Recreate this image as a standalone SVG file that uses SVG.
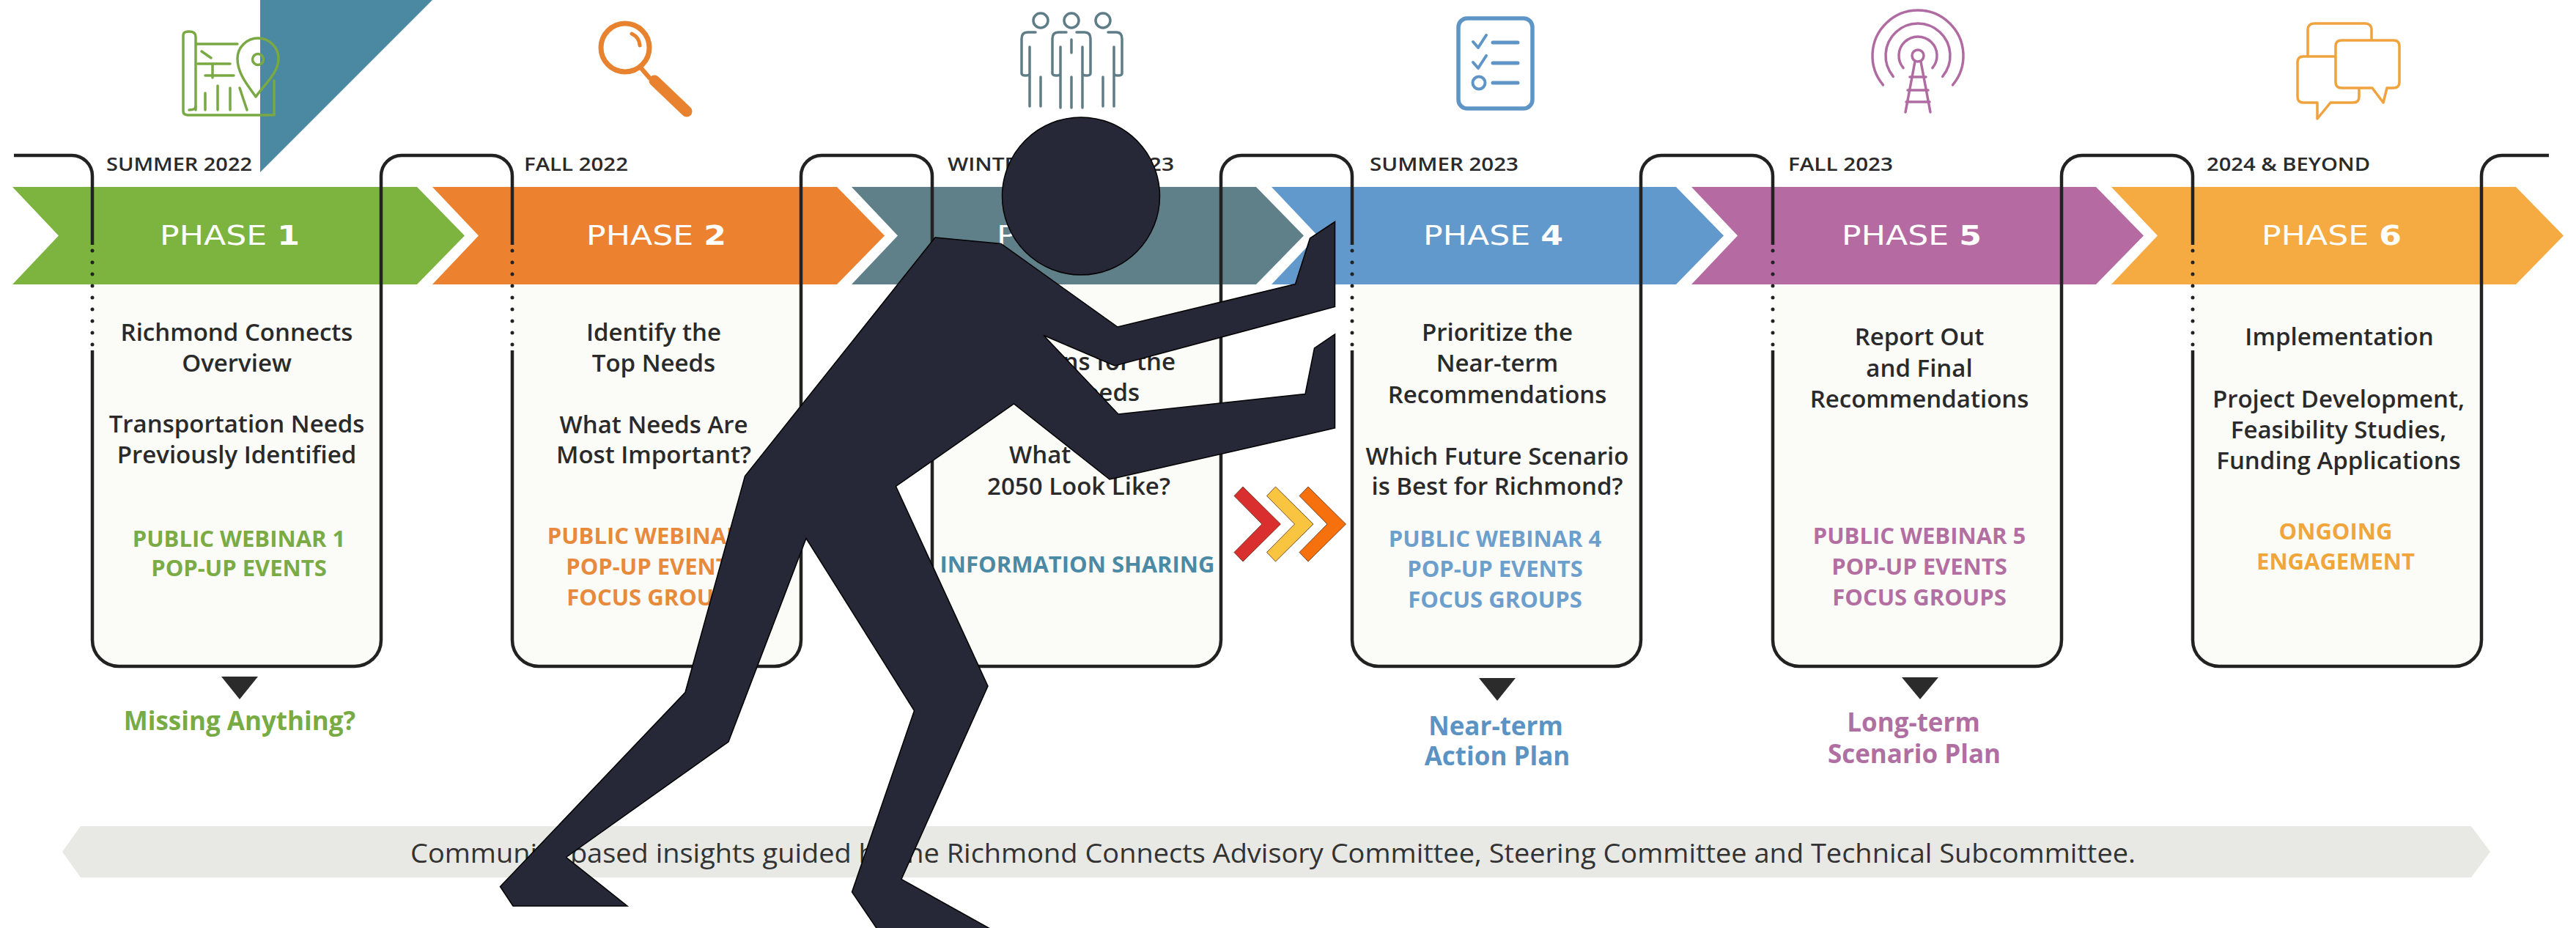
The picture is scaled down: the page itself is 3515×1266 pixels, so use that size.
<svg xmlns="http://www.w3.org/2000/svg" width="3515" height="1266" viewBox="0 0 3515 1266">
  <defs>
    <style>
      .arrow { stroke: none; }
      .title { font-family: "DejaVu Sans", "Liberation Sans", sans-serif; font-size: 38px; fill: #ffffff; }
      .date { font-family: "Open Sans", "Liberation Sans", sans-serif; font-size: 25px; font-weight: 600; fill: #2a2a2a; }
      .body { font-family: "Open Sans", "Liberation Sans", sans-serif; font-size: 33px; font-weight: 600; fill: #2a2a2a; text-anchor: middle; }
      .body.end { text-anchor: end; }
      .body.start { text-anchor: start; }
      .cap { font-family: "Open Sans", "Liberation Sans", sans-serif; font-size: 31px; font-weight: 700; text-anchor: middle; }
      .lab { font-family: "Open Sans", "Liberation Sans", sans-serif; font-size: 35px; font-weight: 700; text-anchor: middle; }
      .boxfill { fill: #fbfbf8; stroke: none; }
      .line { fill: none; stroke: #222222; stroke-width: 4.5; }
      .dots { fill: none; stroke: #222222; stroke-width: 5; stroke-dasharray: 0 16; stroke-linecap: round; }
      .pointer { fill: #2b2b2b; }
      .icon { fill: none; stroke-width: 3.5; stroke-linecap: round; stroke-linejoin: round; }
      .chev { stroke: #5a2a10; stroke-width: 0.8; }
      .fig { fill: #262837; stroke: #000000; stroke-width: 1.5; stroke-linejoin: miter; }
    </style>
  </defs>

  <rect x="0" y="0" width="3515" height="1266" fill="#ffffff"/>

  <!-- corner accent -->
  <polygon points="355,0 590,0 355,235" fill="#4a89a1"/>

  <!-- phase icons -->
  <g id="icon-map" class="icon" stroke="#7aa944">
    <path d="M267,60 H324 M250,48 Q250,43 258,43 Q267,43 267,50 V150 M250,48 V152 Q250,157 258,157 H374 V110"/>
    <path d="M258,150 Q267,150 267,145"/>
    <path d="M275,70 L288,79 M270,87 H314 M290,87 V106 M280,103 H319 M297,117 V150 M314,120 V150 M280,127 V150 M327,120 L337,150"/>
    <path d="M349,132 C336,114 324,99 324,80 A28,28 0 0 1 380,80 C380,99 362,114 349,132 Z" fill="none"/>
    <circle cx="352" cy="81" r="7.5"/>
  </g>

  <g id="icon-search" class="icon" stroke="#e8822e">
    <circle cx="853" cy="65" r="33" stroke-width="7"/>
    <path d="M862,46 A19,19 0 0 1 873,62" stroke-width="5"/>
    <path d="M874,92 L886,106" stroke-width="6"/>
    <path d="M893,110 L937,152" stroke-width="15"/>
  </g>

  <g id="icon-people" class="icon" stroke="#5f7d88">
    <!-- left figure -->
    <circle cx="1420" cy="28" r="10"/>
    <path d="M1413,44 H1402 Q1394,44 1394,53 V100 Q1394,103 1399.5,103 Q1405,103 1405,100 V64 M1405,64 V145 M1420,105 V145"/>
    <!-- right figure -->
    <circle cx="1505" cy="28" r="10"/>
    <path d="M1512,44 H1523 Q1531,44 1531,53 V100 Q1531,103 1525.5,103 Q1520,103 1520,100 V64 M1520,64 V145 M1505,105 V145"/>
    <!-- middle figure -->
    <path d="M1436,53 Q1436,44 1444,44 H1480 Q1488,44 1488,53 V100 Q1488,106 1480,106 H1444 Q1436,106 1436,100 Z" fill="#ffffff" stroke="none"/>
    <circle cx="1462" cy="28" r="10" fill="#ffffff"/>
    <path d="M1455,44 H1444 Q1436,44 1436,53 V100 Q1436,103 1441.5,103 Q1447,103 1447,100 V64 M1447,64 V147 M1469,44 H1480 Q1488,44 1488,53 V100 Q1488,103 1482.5,103 Q1477,103 1477,100 V64 M1477,64 V147 M1462,54 V72 M1462,105 V147"/>
  </g>

  <g id="icon-checklist" class="icon" stroke="#5e95c6">
    <rect x="1990" y="25" width="101" height="123" rx="12" stroke-width="5.5"/>
    <path d="M2010,57 L2017,65 L2028,48 M2010,85 L2017,93 L2028,76" stroke-width="4"/>
    <circle cx="2018" cy="113" r="8.5" stroke-width="4"/>
    <path d="M2037,58 H2071 M2037,86 H2071 M2037,113 H2071" stroke-width="5"/>
  </g>

  <g id="icon-tower" class="icon" stroke="#b06ca2">
    <path d="M2569.5,115.9 A62,62 0 1 1 2664.5,115.9"/>
    <path d="M2583.3,104.3 A44,44 0 1 1 2650.7,104.3"/>
    <path d="M2597.1,92.7 A26,26 0 1 1 2636.9,92.7"/>
    <circle cx="2617" cy="76" r="8"/>
    <path d="M2613,84 L2600,153 M2621,84 L2634,153 M2606,105 H2628 M2603,123 H2631 M2601,139 H2633"/>
  </g>

  <g id="icon-chat" class="icon" stroke="#f0a33c" stroke-width="4">
    <rect x="3149" y="32" width="87" height="70" rx="8"/>
    <path d="M3143,77 H3211 Q3219,77 3219,85 V132 Q3219,140 3211,140 H3180 L3162,162 V140 H3143 Q3135,140 3135,132 V85 Q3135,77 3143,77 Z" fill="#ffffff"/>
    <path d="M3195,55 H3266 Q3274,55 3274,63 V112 Q3274,120 3266,120 H3257 L3252,140 L3237,120 H3195 Q3187,120 3187,112 V63 Q3187,55 3195,55 Z" fill="#ffffff"/>
  </g>

  <!-- phase 1 -->
  <g id="phase-1">
    <path class="boxfill" d="M126,388 V873 A36,36 0 0 0 162,909 H484 A36,36 0 0 0 520,873 V388 Z"/>
    <polygon class="arrow" fill="#7db43f" points="17,255 569,255 634,321.5 569,388 17,388 80,321.5"/>
    <text class="title" x="218" y="334" textLength="191" lengthAdjust="spacingAndGlyphs">PHASE <tspan font-weight="700">1</tspan></text>
    <text class="date" x="145" y="233" textLength="199" lengthAdjust="spacingAndGlyphs">SUMMER 2022</text>
    <text class="body" x="323" y="465">Richmond Connects</text>
    <text class="body" x="323" y="507">Overview</text>
    <text class="body" x="323" y="590">Transportation Needs</text>
    <text class="body" x="323" y="632">Previously Identified</text>
    <text class="cap" fill="#7aab44" x="326" y="746">PUBLIC WEBINAR 1</text>
    <text class="cap" fill="#7aab44" x="326" y="786">POP-UP EVENTS</text>
    <polygon class="pointer" points="302,923 352,923 327,954"/>
    <text class="lab" fill="#79ab44" x="327" y="996">Missing Anything?</text>
  </g>

  <!-- phase 2 -->
  <g id="phase-2">
    <path class="boxfill" d="M699,388 V873 A36,36 0 0 0 735,909 H1057 A36,36 0 0 0 1093,873 V388 Z"/>
    <polygon class="arrow" fill="#ec822f" points="590,255 1142,255 1207,321.5 1142,388 590,388 653,321.5"/>
    <text class="title" x="800" y="334" textLength="191" lengthAdjust="spacingAndGlyphs">PHASE <tspan font-weight="700">2</tspan></text>
    <text class="date" x="715" y="233" textLength="142" lengthAdjust="spacingAndGlyphs">FALL 2022</text>
    <text class="body" x="892" y="465">Identify the</text>
    <text class="body" x="892" y="507">Top Needs</text>
    <text class="body" x="892" y="591">What Needs Are</text>
    <text class="body" x="892" y="632">Most Important?</text>
    <text class="cap" fill="#e88a3c" x="892" y="742">PUBLIC WEBINAR 2</text>
    <text class="cap" fill="#e88a3c" x="892" y="784">POP-UP EVENTS</text>
    <text class="cap" fill="#e88a3c" x="892" y="826">FOCUS GROUPS</text>
  </g>

  <!-- phase 3 -->
  <g id="phase-3">
    <path class="boxfill" d="M1272,388 V873 A36,36 0 0 0 1308,909 H1630 A36,36 0 0 0 1666,873 V388 Z"/>
    <polygon class="arrow" fill="#5f7f89" points="1162,255 1714,255 1779,321.5 1714,388 1162,388 1225,321.5"/>
    <text class="title" x="1360" y="334" textLength="191" lengthAdjust="spacingAndGlyphs">PHASE <tspan font-weight="700">3</tspan></text>
    <text class="date" x="1293" y="233" textLength="309" lengthAdjust="spacingAndGlyphs">WINTER/SPRING 2023</text>
    <text class="body end" x="1604" y="505">Solutions for the</text>
    <text class="body end" x="1555" y="547">Top Needs</text>
    <text class="body start" x="1377" y="632">What</text>
    <text class="body" x="1472" y="675">2050 Look Like?</text>
    <text class="cap" fill="#4a8aa5" x="1470" y="781">INFORMATION SHARING</text>
  </g>

  <!-- phase 4 -->
  <g id="phase-4">
    <path class="boxfill" d="M1845,388 V873 A36,36 0 0 0 1881,909 H2203 A36,36 0 0 0 2239,873 V388 Z"/>
    <polygon class="arrow" fill="#6199cc" points="1735,255 2287,255 2352,321.5 2287,388 1735,388 1798,321.5"/>
    <text class="title" x="1942" y="334" textLength="191" lengthAdjust="spacingAndGlyphs">PHASE <tspan font-weight="700">4</tspan></text>
    <text class="date" x="1869" y="233" textLength="203" lengthAdjust="spacingAndGlyphs">SUMMER 2023</text>
    <text class="body" x="2043" y="465">Prioritize the</text>
    <text class="body" x="2043" y="507">Near-term</text>
    <text class="body" x="2043" y="550">Recommendations</text>
    <text class="body" x="2043" y="634">Which Future Scenario</text>
    <text class="body" x="2043" y="675">is Best for Richmond?</text>
    <text class="cap" fill="#6d9fcc" x="2040" y="746">PUBLIC WEBINAR 4</text>
    <text class="cap" fill="#6d9fcc" x="2040" y="787">POP-UP EVENTS</text>
    <text class="cap" fill="#6d9fcc" x="2040" y="829">FOCUS GROUPS</text>
    <polygon class="pointer" points="2018,925 2068,925 2043,956"/>
    <text class="lab" fill="#5b93c3" x="2041" y="1003">Near-term</text>
    <text class="lab" fill="#5b93c3" x="2043" y="1044">Action Plan</text>
  </g>

  <!-- phase 5 -->
  <g id="phase-5">
    <path class="boxfill" d="M2419,388 V873 A36,36 0 0 0 2455,909 H2777 A36,36 0 0 0 2813,873 V388 Z"/>
    <polygon class="arrow" fill="#b56aa1" points="2308,255 2860,255 2925,321.5 2860,388 2308,388 2371,321.5"/>
    <text class="title" x="2513" y="334" textLength="191" lengthAdjust="spacingAndGlyphs">PHASE <tspan font-weight="700">5</tspan></text>
    <text class="date" x="2440" y="233" textLength="143" lengthAdjust="spacingAndGlyphs">FALL 2023</text>
    <text class="body" x="2619" y="471">Report Out</text>
    <text class="body" x="2619" y="514">and Final</text>
    <text class="body" x="2619" y="556">Recommendations</text>
    <text class="cap" fill="#b36fa1" x="2619" y="742">PUBLIC WEBINAR 5</text>
    <text class="cap" fill="#b36fa1" x="2619" y="784">POP-UP EVENTS</text>
    <text class="cap" fill="#b36fa1" x="2619" y="826">FOCUS GROUPS</text>
    <polygon class="pointer" points="2595,924 2645,924 2620,954"/>
    <text class="lab" fill="#b06fa2" x="2611" y="998">Long-term</text>
    <text class="lab" fill="#b06fa2" x="2612" y="1041">Scenario Plan</text>
  </g>

  <!-- phase 6 -->
  <g id="phase-6">
    <path class="boxfill" d="M2992,388 V873 A36,36 0 0 0 3028,909 H3350 A36,36 0 0 0 3386,873 V388 Z"/>
    <polygon class="arrow" fill="#f6aa42" points="2881,255 3433,255 3498,321.5 3433,388 2881,388 2944,321.5"/>
    <text class="title" x="3086" y="334" textLength="191" lengthAdjust="spacingAndGlyphs">PHASE <tspan font-weight="700">6</tspan></text>
    <text class="date" x="3011" y="233" textLength="223" lengthAdjust="spacingAndGlyphs">2024 &amp; BEYOND</text>
    <text class="body" x="3192" y="471">Implementation</text>
    <text class="body" x="3191" y="556">Project Development,</text>
    <text class="body" x="3191" y="598">Feasibility Studies,</text>
    <text class="body" x="3191" y="640">Funding Applications</text>
    <text class="cap" fill="#f0a63a" x="3187" y="736">ONGOING</text>
    <text class="cap" fill="#f0a63a" x="3187" y="777">ENGAGEMENT</text>
  </g>

  <!-- timeline frame linking the phase boxes -->
  <g id="connectors">
    <path class="line" d="M19,212 H98 A28,28 0 0 1 126,240 V334"/>
    <path class="line" d="M126,478 V873 A36,36 0 0 0 162,909 H484 A36,36 0 0 0 520,873 V240 A28,28 0 0 1 548,212 H671 A28,28 0 0 1 699,240 V334"/>
    <path class="line" d="M699,478 V873 A36,36 0 0 0 735,909 H1057 A36,36 0 0 0 1093,873 V240 A28,28 0 0 1 1121,212 H1244 A28,28 0 0 1 1272,240 V334"/>
    <path class="line" d="M1272,478 V873 A36,36 0 0 0 1308,909 H1630 A36,36 0 0 0 1666,873 V240 A28,28 0 0 1 1694,212 H1817 A28,28 0 0 1 1845,240 V334"/>
    <path class="line" d="M1845,478 V873 A36,36 0 0 0 1881,909 H2203 A36,36 0 0 0 2239,873 V240 A28,28 0 0 1 2267,212 H2391 A28,28 0 0 1 2419,240 V334"/>
    <path class="line" d="M2419,478 V873 A36,36 0 0 0 2455,909 H2777 A36,36 0 0 0 2813,873 V240 A28,28 0 0 1 2841,212 H2964 A28,28 0 0 1 2992,240 V334"/>
    <path class="line" d="M2992,478 V873 A36,36 0 0 0 3028,909 H3350 A36,36 0 0 0 3386,873 V240 A28,28 0 0 1 3414,212 H3478"/>
    <path class="dots" d="M126,342 V472 M699,342 V472 M1272,342 V472 M1845,342 V472 M2419,342 V472 M2992,342 V472"/>
  </g>

  <!-- footer band -->
  <g id="footer">
    <polygon points="85,1162 110,1127 3372,1127 3398,1162 3372,1197 110,1197" fill="#e8e8e5"/>
    <text x="560" y="1177" font-family="Open Sans, Liberation Sans, sans-serif" font-size="37" fill="#333333" textLength="2354" lengthAdjust="spacingAndGlyphs">Community-based insights guided by the Richmond Connects Advisory Committee, Steering Committee and Technical Subcommittee.</text>
  </g>

  <!-- forward chevrons -->
  <g id="chevrons">
    <polygon class="chev" fill="#d9302f" points="1684,676.5 1696,664 1747.5,715 1696,766 1684,753.5 1722,715"/>
    <polygon class="chev" fill="#f9c440" points="1728.5,676.5 1740.5,664 1792,715 1740.5,766 1728.5,753.5 1766.5,715"/>
    <polygon class="chev" fill="#f7700e" points="1773,676.5 1785,664 1836.5,715 1785,766 1773,753.5 1811,715"/>
  </g>

  <!-- pushing figure -->
  <g id="figure">
    <polygon class="fig" points="1276,324 1366,332.5 1525,446 1767.5,387.5 1787.5,325 1821.5,302.5 1821.5,418.5 1521,499 1424,457.5 1526,565 1781,537.5 1793.5,475 1821.5,456 1821.5,584 1514,654 1383.5,551 1222.5,663.5 1348,936 1230,1199.5 1360,1272 1200,1272 1162.5,1217 1247.5,969.5 1100,734.5 994,1012 772.5,1169.5 856,1236 700,1236 682.5,1209.5 935,944.5 1016.5,649.5"/>
    <circle class="fig" cx="1475" cy="267.5" r="107.5"/>
  </g>
</svg>
